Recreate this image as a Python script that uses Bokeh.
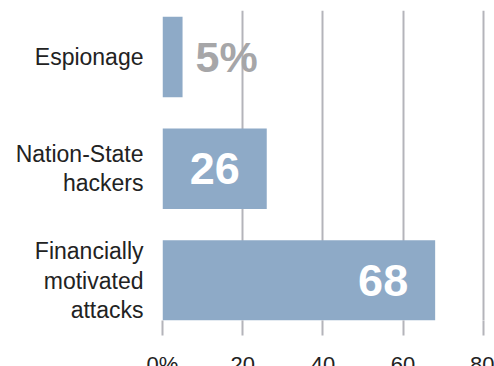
from bokeh.plotting import figure
from bokeh.models import Range1d, FixedTicker, ColumnDataSource
from bokeh.embed import file_html
from bokeh.resources import INLINE
from bokeh.core.properties import value

# ---- data ----
categories = ["Espionage", "Nation-State\nhackers", "Financially\nmotivated\nattacks"]
shares = [5, 26, 68]
value_labels = ["5%", "26", "68"]
x_ticks = [0, 20, 40, 60, 80]
x_tick_labels = ["0%", "20", "40", "60", "80"]

n = len(categories)
ypos = [n - 1 - i for i in range(n)]  # first category on top

BAR = "#8eaac7"
GRID = "#b4b4ba"
NUM_FONT = value("Liberation Sans")

p = figure(frame_width=332, frame_height=310, output_backend="svg", toolbar_location=None,
           x_range=Range1d(0, 82.8), y_range=Range1d(-0.357, 2.415),
           min_border_left=162, min_border_right=0, min_border_top=10, min_border_bottom=30)
p.outline_line_color = None
p.background_fill_color = "white"
p.border_fill_color = "white"

src = ColumnDataSource(dict(y=ypos, share=shares, label=value_labels, cat=categories))
p.hbar(y="y", right="share", left=0, height=0.72, source=src, fill_color=BAR, line_color=None)

# value labels: small value outside (grey), others inside (white)
idx_small = [i for i in range(n) if shares[i] < 10]
idx_big = [i for i in range(n) if shares[i] >= 10]
small = ColumnDataSource(dict(y=[ypos[i] for i in idx_small], x=[shares[i] for i in idx_small],
                              t=[value_labels[i] for i in idx_small]))
big = ColumnDataSource(dict(y=[ypos[i] for i in idx_big], x=[shares[i] for i in idx_big],
                            t=[value_labels[i] for i in idx_big]))
p.text(x="x", y="y", text="t", source=small, text_align="left", text_baseline="middle",
       x_offset=13, text_font=NUM_FONT, text_font_style="bold",
       text_font_size="43px", text_color="#a6a6a8")
p.text(x="x", y="y", text="t", source=big, text_align="right", text_baseline="middle",
       x_offset=-27, text_font=NUM_FONT, text_font_style="bold",
       text_font_size="45px", text_color="white")

# grid
p.ygrid.grid_line_color = None
p.xgrid.ticker = FixedTicker(ticks=x_ticks)
p.xgrid.grid_line_color = GRID
p.xgrid.grid_line_width = 2

# x axis
xa = p.xaxis[0]
xa.ticker = FixedTicker(ticks=x_ticks)
xa.major_label_overrides = {t: l for t, l in zip(x_ticks, x_tick_labels)}
xa.axis_line_color = None
xa.major_tick_line_color = GRID
xa.major_tick_line_width = 2
xa.major_tick_out = 15
xa.major_tick_in = 0
xa.minor_tick_line_color = None
xa.major_label_standoff = 16
xa.major_label_text_font = "Liberation Sans"
xa.major_label_text_font_size = "22px"
xa.major_label_text_color = "#222222"

# y axis
ya = p.yaxis[0]
ya.ticker = FixedTicker(ticks=ypos)
ya.major_label_overrides = {y: c for y, c in zip(ypos, categories)}
ya.axis_line_color = None
ya.major_tick_line_color = None
ya.minor_tick_line_color = None
ya.major_label_standoff = 13
ya.major_label_text_font = "Liberation Sans"
ya.major_label_text_font_size = "23px"
ya.major_label_text_line_height = 1.13
ya.major_label_text_color = "#222222"

open("out.html", "w").write(file_html(p, INLINE))
